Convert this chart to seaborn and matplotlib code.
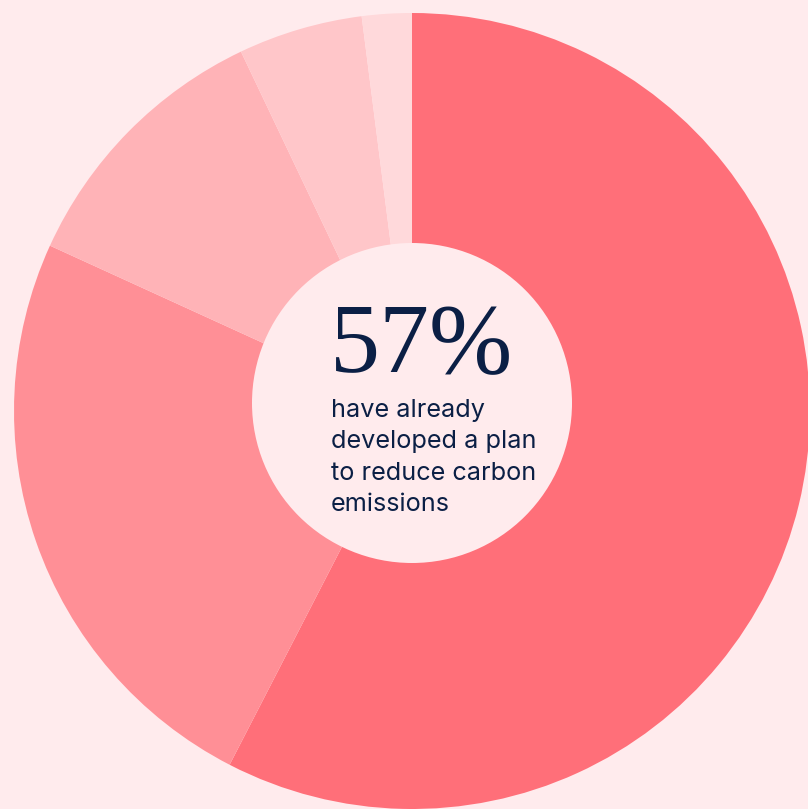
import matplotlib
matplotlib.use("Agg")
import matplotlib.pyplot as plt
import seaborn as sns
from matplotlib.patches import Circle

shares = [57, 24, 11, 5, 2]
slice_colors = ["#FF6F79", "#FF8F96", "#FFB3B7", "#FFC6C9", "#FFD9DB"]
headline = "57%"
caption = "have already\ndeveloped a plan\nto reduce carbon\nemissions"

BG = "#FFEBED"
INK = "#0B1F45"
H = 809  # figure height in px, axes use pixel units with y up

sns.set_theme(style="white")
plt.rcParams["font.family"] = ["Inter", "DejaVu Sans"]

fig = plt.figure(figsize=(8.08, 8.09), dpi=100, facecolor=BG)
ax = fig.add_axes([0, 0, 1, 1])
ax.set_facecolor(BG)

ax.pie(
    shares,
    colors=slice_colors,
    startangle=90,
    counterclock=False,
    center=(412, H - 411),
    radius=398,
    wedgeprops={"linewidth": 0},
    frame=True,
)
ax.add_patch(Circle((412, H - 403), 160, facecolor=BG, edgecolor="none", zorder=3))

ax.text(330, H - 372, headline, fontsize=72, family=["Liberation Serif", "DejaVu Serif"],
        color=INK, ha="left", va="baseline", zorder=4)
ax.text(331, H - 399, caption, fontsize=18.2, color=INK, ha="left", va="top",
        linespacing=1.46, zorder=4)

ax.set_xlim(0, 808)
ax.set_ylim(0, H)
ax.set_aspect("equal")
ax.axis("off")

fig.savefig("out.png", dpi=100, facecolor=BG)
